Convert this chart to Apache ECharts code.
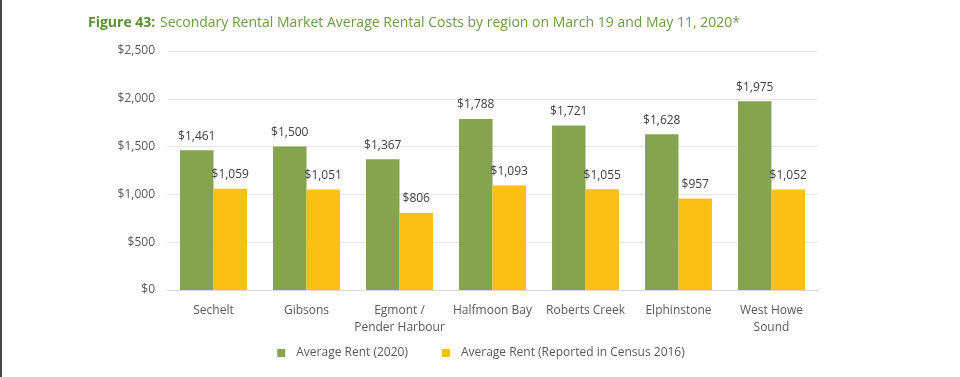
<!DOCTYPE html>
<html>
<head>
<meta charset="utf-8">
<script src="https://cdn.jsdelivr.net/npm/echarts@6/dist/echarts.min.js"></script>
<style>
  html, body { margin: 0; padding: 0; background: #fff; }
  #chart { width: 960px; height: 377px; border-left: 2px solid #444; box-sizing: border-box; }
</style>
</head>
<body>
<div id="chart"></div>
<script>
const regions = ['Sechelt', 'Gibsons', 'Egmont /\nPender Harbour', 'Halfmoon Bay', 'Roberts Creek', 'Elphinstone', 'West Howe\nSound']
const rent2020 = [1461, 1500, 1367, 1788, 1721, 1628, 1975]
const rent2016 = [1059, 1051, 806, 1093, 1055, 957, 1052]
const seriesNames = ['Average Rent (2020)', 'Average Rent (Reported in Census 2016)']

const chart = echarts.init(document.getElementById('chart'))
const fontFamily = '"Open Sans", "Noto Sans", sans-serif'
const money = v => '$' + v.toLocaleString('en-US')

chart.setOption({
  animation: false,
  textStyle: { fontFamily: fontFamily },
  title: {
    text: '{b|Figure 43:} {r|Secondary Rental Market Average Rental Costs by region on March 19 and May 11, 2020*}',
    left: 81,
    top: 9,
    textStyle: {
      fontWeight: 'normal',
      rich: {
        b: { fontSize: 14, fontWeight: 'bold', color: '#5c8f32', fontFamily: fontFamily },
        r: { fontSize: 14, fontWeight: 'normal', color: '#6d9b45', fontFamily: fontFamily }
      }
    }
  },
  legend: {
    bottom: 13,
    left: 'center',
    itemWidth: 8,
    itemHeight: 8,
    itemGap: 34,
    icon: 'rect',
    textStyle: { fontSize: 12, color: '#595959', padding: [0, 0, 0, 6] }
  },
  grid: { left: 165, right: 142, top: 51, bottom: 87 },
  xAxis: {
    type: 'category',
    data: regions,
    axisLine: { lineStyle: { color: '#d9d9d9' } },
    axisTick: { show: false },
    axisLabel: { color: '#595959', fontSize: 12, lineHeight: 17, margin: 12, interval: 0 }
  },
  yAxis: {
    type: 'value',
    min: 0,
    max: 2500,
    interval: 500,
    axisLabel: { color: '#595959', fontSize: 12, formatter: money, margin: 12 },
    splitLine: { lineStyle: { color: '#e6e6e6' } }
  },
  series: [
    {
      name: seriesNames[0],
      type: 'bar',
      data: rent2020,
      barGap: '0%',
      barCategoryGap: '28%',
      itemStyle: { color: '#86a34f' },
      label: { show: true, position: 'top', color: '#404040', fontSize: 12, distance: 8, formatter: p => money(p.value) }
    },
    {
      name: seriesNames[1],
      type: 'bar',
      data: rent2016,
      itemStyle: { color: '#fcbf14' },
      label: { show: true, position: 'top', color: '#404040', fontSize: 12, distance: 8, formatter: p => money(p.value) }
    }
  ]
})
</script>
</body>
</html>
